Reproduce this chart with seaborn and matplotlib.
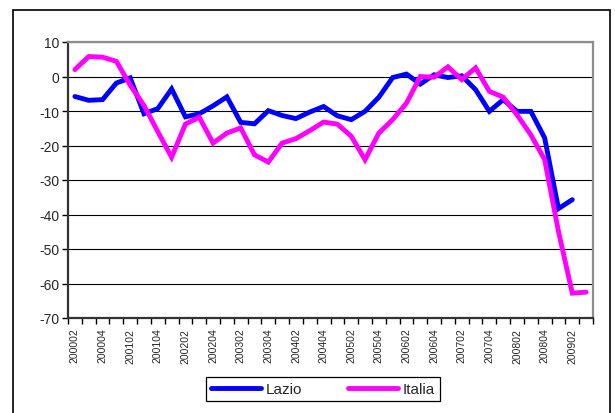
import matplotlib
matplotlib.use("Agg")
import matplotlib.pyplot as plt
import matplotlib.patches as mpatches
from matplotlib.ticker import FixedLocator
import numpy as np
import pandas as pd
import seaborn as sns

# quarters (yyyy0q)
quarters = ["200002", "200003", "200004", "200101", "200102", "200103", "200104",
            "200201", "200202", "200203", "200204", "200301", "200302", "200303",
            "200304", "200401", "200402", "200403", "200404", "200501", "200502",
            "200503", "200504", "200601", "200602", "200603", "200604", "200701",
            "200702", "200703", "200704", "200801", "200802", "200803", "200804",
            "200901", "200902", "200903"]

lazio = [-5.8, -6.9, -6.7, -1.9, -0.4, -10.8, -9.3, -3.6, -11.7, -10.8,
         -8.5, -5.9, -13.3, -13.7, -9.9, -11.3, -12.2, -10.3, -8.7,
         -11.4, -12.5, -10.1, -6.0, -0.3, 0.7, -2.2, 0.5, -0.3, 0.2,
         -3.8, -10.1, -6.7, -10.1, -10.1, -17.8, -38.3, -35.7]

italia = [2.0, 5.8, 5.6, 4.4, -2.5, -8.4, -16.0, -23.4, -13.8, -11.8,
          -19.3, -16.4, -14.9, -22.7, -24.8, -19.3, -18.0, -15.7, -13.2,
          -13.8, -17.3, -24.1, -16.4, -12.5, -7.7, 0.0, -0.2, 2.8, -0.9,
          2.5, -4.3, -6.0, -11.1, -16.9, -24.1, -44.9, -62.8, -62.5]

df = pd.concat([
    pd.DataFrame({"pos": range(len(lazio)), "value": lazio, "serie": "Lazio"}),
    pd.DataFrame({"pos": range(len(italia)), "value": italia, "serie": "Italia"}),
])

sns.set_theme(style="white")
plt.rcParams["font.family"] = ["Liberation Sans", "DejaVu Sans"]

fig = plt.figure(figsize=(6.15, 4.14), dpi=100)
# outer chart frame (bottom edge runs off the image)
fig.patches.append(mpatches.Rectangle((13 / 615, -0.05), 597 / 615, 1.05 - 11 / 414,
                                      transform=fig.transFigure, fill=False,
                                      edgecolor="black", linewidth=1.2))
ax = fig.add_axes([68 / 615, 1 - 319 / 414, 525 / 615, 276 / 414])

sns.lineplot(data=df, x="pos", y="value", hue="serie",
             palette={"Lazio": "#0000ff", "Italia": "#ff00ff"},
             linewidth=3.5, ax=ax, solid_capstyle="round", solid_joinstyle="miter")

ax.set_xlim(-0.5, len(quarters) - 0.5)
ax.set_ylim(-70, 10)
ax.set_yticks(np.arange(-70, 11, 10))
ax.set_yticklabels([str(v) for v in range(-70, 11, 10)], fontsize=10)
ax.yaxis.grid(True, color="black", linewidth=0.8)
ax.set_axisbelow(True)

ax.set_xticks(range(0, len(quarters), 2))
ax.set_xticklabels(quarters[::2], rotation=90, fontsize=7.5)
ax.xaxis.set_minor_locator(FixedLocator(np.arange(-0.5, len(quarters), 1)))
ax.tick_params(axis="x", which="major", length=0, pad=7)
ax.tick_params(axis="x", which="minor", length=4, width=1, color="black",
               direction="out", bottom=True)
ax.tick_params(axis="y", length=4, width=1, color="black", direction="out",
               left=True, pad=2)
ax.set_xlabel("")
ax.set_ylabel("")

for side in ["left", "bottom"]:
    ax.spines[side].set_color("#333333")
    ax.spines[side].set_linewidth(1.6)
for side in ["top", "right"]:
    ax.spines[side].set_color("#8c8c8c")
    ax.spines[side].set_linewidth(1.6)

handles, labels = ax.get_legend_handles_labels()
ax.legend(handles, labels, loc="center", bbox_to_anchor=(323 / 615, 1 - 390 / 414),
          bbox_transform=fig.transFigure, ncol=2, fontsize=11, frameon=True,
          fancybox=False, edgecolor="black", handlelength=3.3, handletextpad=0.3,
          columnspacing=3.0, borderpad=0.3, framealpha=1)
ax.get_legend().get_frame().set_linewidth(0.9)

fig.savefig("out.png", dpi=100)
